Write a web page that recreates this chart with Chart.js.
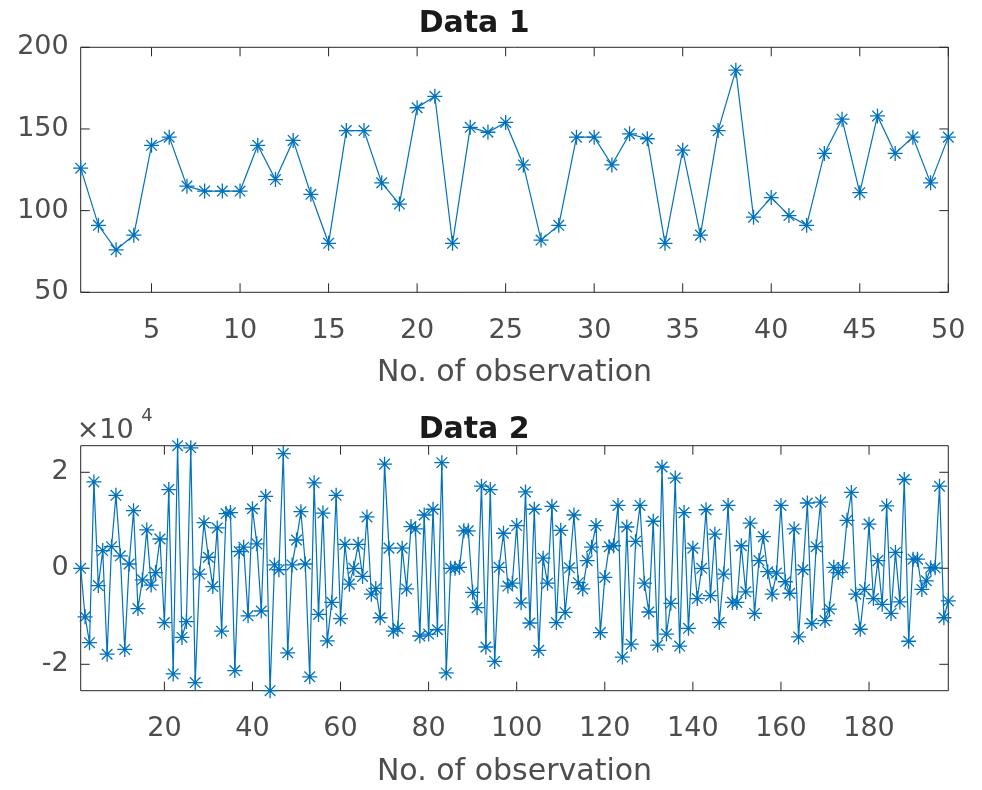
<!DOCTYPE html>
<html><head><meta charset="utf-8">
<script src="https://cdn.jsdelivr.net/npm/chart.js@4"></script>
<style>
html,body{margin:0;padding:0;background:#fff;}
#wrap{position:relative;width:982px;height:790px;overflow:hidden;}
canvas{position:absolute;left:0;}
</style></head><body>
<div id="wrap">
<canvas id="c1" width="982" height="395" style="top:0"></canvas>
<canvas id="c2" width="982" height="395" style="top:395px"></canvas>
</div>
<script>
// ---- data ----
const title1 = 'Data 1';
const title2 = 'Data 2';
const xAxisTitle = 'No. of observation';

const data1 = [126,91,76,85,140,145,115,112,112,112,
               140,119,143,110,80,149,149,117,104,163,
               170,80,151,148,154,128,82,91,145,145,
               128,147,144,80,137,85,149,186,96,108,
               97,91,135,156,111,158,135,145,117,145];
const xTicks1 = [5,10,15,20,25,30,35,40,45,50];
const yTicks1 = [50,100,150,200];

const data2 = [0,-10100,-15500,18000,-3600,3700,-17900,4500,15200,2600,
               -16900,900,12000,-8400,-2400,8000,-3500,-900,6100,-11300,
               16400,-22000,25540,-14400,-11100,25100,-23800,-1200,9500,2300,
               -3800,8400,-13100,11400,11600,-21300,3500,4400,-9900,12400,
               5100,-8900,15000,-25500,700,-300,23900,-17600,700,5900,
               11800,900,-22600,17800,-9600,11500,-15100,-7100,15200,-10500,
               5000,-3300,0,5000,-1700,10700,-5400,-4200,-10300,21700,
               4200,-13100,-12500,4200,-4300,8700,8200,-14100,11100,-13700,
               12300,-12800,22000,-21800,0,0,200,7800,7800,-5000,
               -8200,17100,-16400,16400,-19400,200,7300,-3700,-3100,8900,
               -7200,15900,-11400,12300,-17100,2100,-3100,12900,-11300,7900,
               -9200,100,11100,-3000,-4300,1600,4400,8900,-13400,-1900,
               4500,4700,13100,-18500,8600,-15800,5600,13100,-3100,-9100,
               9800,-16000,21100,-13700,-7300,18800,-16200,11600,-12500,4200,
               -6300,0,12200,-5700,7100,-11300,-1200,13100,-7100,-7100,
               4700,-4900,9400,-9400,1600,6600,-700,-5400,-1000,13100,
               -2800,-5200,8200,-14300,-300,13600,-11500,4500,13800,-10900,
               -8500,200,-900,100,10000,15800,-5400,-12700,-4400,9200,
               -6300,1600,-7500,13000,-9400,3300,-7000,18500,-15200,1900,
               1900,-4400,-2600,100,100,17100,-10300,-6800];
const xTicks2 = [20,40,60,80,100,120,140,160,180];
const yTicks2 = [-20000,0,20000];
const yExponent = 4;

// ---- styles ----
const FONT = 'DejaVu Sans';
const LINE = '#0072BD';
const AXIS = '#262626';
const TXT = '#4d4d4d';
Chart.defaults.font.family = FONT;

const boxPlugin = {
  id: 'matlabBox',
  beforeDatasetsDraw(chart, args, opts) {
    const {ctx, chartArea: a, scales: {x, y}} = chart;
    const tl = 9;
    ctx.save();
    ctx.strokeStyle = AXIS;
    ctx.lineWidth = 1;
    ctx.beginPath();
    x.ticks.forEach(t => {
      const p = x.getPixelForValue(t.value);
      ctx.moveTo(p, a.bottom); ctx.lineTo(p, a.bottom - tl);
      ctx.moveTo(p, a.top); ctx.lineTo(p, a.top + tl);
    });
    y.ticks.forEach(t => {
      const p = y.getPixelForValue(t.value);
      ctx.moveTo(a.left, p); ctx.lineTo(a.left + tl, p);
      ctx.moveTo(a.right, p); ctx.lineTo(a.right - tl, p);
    });
    ctx.rect(a.left, a.top, a.right - a.left, a.bottom - a.top);
    ctx.stroke();
    if (opts && opts.exponent) {
      ctx.fillStyle = TXT;
      ctx.textBaseline = 'alphabetic';
      ctx.textAlign = 'right';
      ctx.font = '27px "' + FONT + '"';
      ctx.fillText('\u00d710', a.left + 53, a.top - 7.4);
      ctx.textAlign = 'left';
      ctx.font = '18px "' + FONT + '"';
      ctx.fillText(String(opts.exponent), a.left + 60.5, a.top - 25);
    }
    ctx.restore();
  }
};

function makeChart(id, cfg) {
  const n = cfg.values.length;
  const pts = cfg.values.map((v, i) => ({x: i + 1, y: v}));
  return new Chart(document.getElementById(id), {
    type: 'line',
    data: {datasets: [{
      data: pts,
      borderColor: LINE,
      backgroundColor: LINE,
      borderWidth: 1.2,
      pointStyle: 'star',
      pointRadius: 7.5,
      pointBorderWidth: 1.3,
      pointBorderColor: LINE,
      fill: false,
      tension: 0,
      clip: false
    }]},
    plugins: [boxPlugin],
    options: {
      responsive: false,
      animation: false,
      events: [],
      layout: {padding: {left: 0, right: 33.7, top: 0, bottom: 0}},
      plugins: {
        legend: {display: false},
        tooltip: {enabled: false},
        matlabBox: {exponent: cfg.exponent || 0},
        title: {
          display: true, text: cfg.title, color: '#1a1a1a',
          font: {size: 30, weight: 'bold', family: FONT, lineHeight: 1},
          padding: cfg.titlePad
        }
      },
      scales: {
        x: {
          type: 'linear', position: 'bottom', min: 1, max: n,
          grid: {display: false, drawTicks: false},
          border: {display: false},
          afterBuildTicks: s => { s.ticks = cfg.xTicks.map(v => ({value: v})); },
          ticks: {font: {size: 27}, color: TXT, padding: 22, maxRotation: 0, autoSkip: false},
          title: {display: true, text: xAxisTitle, color: TXT, font: {size: 30},
                  padding: {top: 0, bottom: cfg.xTitlePadBottom}},
          afterFit: s => { s.height = cfg.xHeight; s.paddingLeft = 0; s.paddingRight = 0; }
        },
        y: {
          type: 'linear', position: 'left', min: cfg.yMin, max: cfg.yMax,
          grid: {display: false, drawTicks: false},
          border: {display: false},
          afterBuildTicks: s => { s.ticks = cfg.yTicks.map(v => ({value: v})); },
          ticks: {font: {size: 27}, color: TXT, padding: 12, autoSkip: false,
                  callback: cfg.yFmt},
          afterFit: s => { s.width = 80.7; s.paddingTop = 0; s.paddingBottom = 0; }
        }
      }
    }
  });
}

makeChart('c1', {
  values: data1, title: title1, xTicks: xTicks1, yTicks: yTicks1,
  yMin: 50, yMax: 200, yFmt: v => String(v),
  titlePad: {top: 9, bottom: 8.3}, xHeight: 102.7, xTitlePadBottom: 3.7
});
makeChart('c2', {
  values: data2, title: title2, xTicks: xTicks2, yTicks: yTicks2,
  yMin: Math.min(...data2), yMax: Math.max(...data2),
  yFmt: v => String(v / Math.pow(10, yExponent)), exponent: yExponent,
  titlePad: {top: 20.7, bottom: 0}, xHeight: 99.3, xTitlePadBottom: 0
});
</script>
</body></html>
